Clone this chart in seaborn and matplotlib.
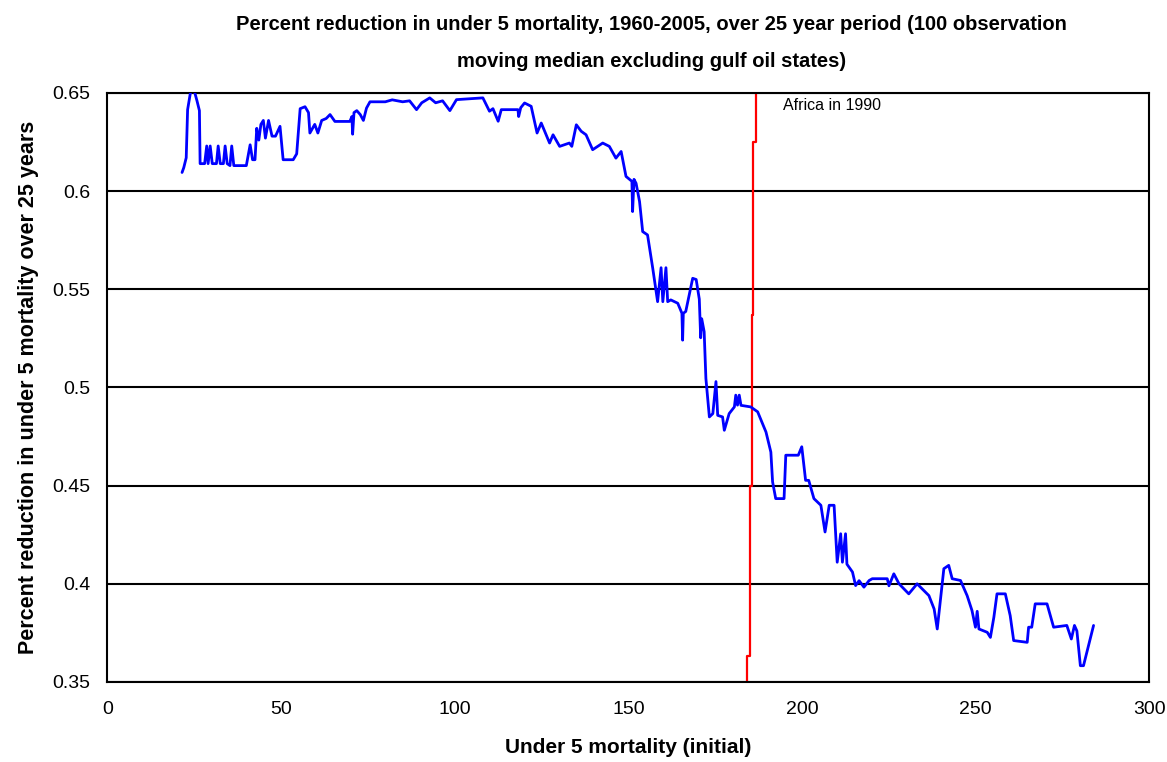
import matplotlib
matplotlib.use("Agg")
import matplotlib.pyplot as plt
import seaborn as sns
import pandas as pd

# moving median curve
mort_x = [21.5, 22.0, 22.7, 23.1, 23.9, 24.8, 25.8, 26.5, 26.7, 28.0, 28.6, 29.0, 29.6, 30.2,
          31.4, 31.9, 32.5, 33.4, 33.9, 34.5, 35.3, 35.8, 36.4, 40.0, 41.1, 41.8, 42.5, 43.0,
          43.6, 44.2, 44.9, 45.5, 46.4, 47.4, 48.4, 49.7, 50.6, 53.5, 54.5, 55.5, 56.9, 57.9,
          58.3, 59.7, 60.6, 61.7, 63.0, 64.1, 65.5, 69.8, 70.4, 70.6, 71.0, 71.8, 72.8, 73.7,
          74.6, 75.6, 80.0, 82.0, 85.0, 87.0, 89.0, 90.5, 92.8, 94.5, 96.5, 98.6, 100.5, 108.1,
          110.0, 111.0, 112.5, 113.4, 118.2, 118.4, 119.0, 120.1, 122.0, 123.7, 124.9, 127.3,
          128.3, 130.2, 133.0, 133.7, 135.0, 136.4, 137.8, 139.7, 142.6, 144.5, 146.4, 147.9,
          149.3, 151.0, 151.2, 151.6, 152.2, 153.2, 154.1, 155.5, 157.0, 158.4, 159.4, 159.9,
          160.8, 161.3, 162.2, 164.2, 165.4, 165.6, 165.8, 166.5, 168.5, 169.5, 170.4, 170.8,
          171.1, 171.8, 172.3, 173.3, 174.3, 175.2, 175.7, 177.1, 177.6, 179.0, 180.5, 180.9,
          181.4, 181.9, 182.4, 185.2, 187.2, 189.6, 191.0, 191.5, 192.4, 194.8, 195.3, 198.9,
          199.9, 201.0, 201.9, 203.4, 205.4, 206.6, 207.8, 209.2, 210.1, 211.1, 211.6, 212.5,
          212.9, 214.5, 215.4, 216.4, 217.8, 219.3, 220.2, 224.5, 225.0, 226.4, 227.9, 230.7,
          233.1, 236.5, 238.0, 238.9, 240.8, 242.2, 243.2, 245.6, 247.5, 248.9, 249.9, 250.4,
          250.9, 253.3, 254.2, 255.2, 256.1, 258.5, 259.9, 260.9, 264.8, 265.2, 266.1, 267.1,
          270.5, 272.4, 276.2, 277.5, 278.4, 279.1, 280.1, 281.0, 283.9]
reduction = [0.6095, 0.612, 0.617, 0.6415, 0.650, 0.6525, 0.646, 0.641, 0.614, 0.614, 0.623,
             0.614, 0.623, 0.614, 0.614, 0.623, 0.614, 0.614, 0.623, 0.614, 0.613, 0.623, 0.613,
             0.613, 0.6236, 0.616, 0.616, 0.632, 0.626, 0.634, 0.636, 0.627, 0.636, 0.628, 0.628,
             0.633, 0.616, 0.616, 0.619, 0.642, 0.643, 0.640, 0.6296, 0.634, 0.6296, 0.636,
             0.637, 0.639, 0.6355, 0.6355, 0.638, 0.629, 0.640, 0.641, 0.639, 0.636, 0.6423,
             0.6455, 0.6455, 0.6465, 0.6455, 0.646, 0.6415, 0.645, 0.6475, 0.645, 0.646, 0.641,
             0.6466, 0.6475, 0.6407, 0.642, 0.6356, 0.6415, 0.6415, 0.638, 0.6425, 0.6449,
             0.6432, 0.6296, 0.6347, 0.6245, 0.6287, 0.6228, 0.6245, 0.6228, 0.6338, 0.6305,
             0.6287, 0.6211, 0.6245, 0.6228, 0.6168, 0.6202, 0.6075, 0.605, 0.5896, 0.606,
             0.604, 0.5947, 0.5794, 0.5777, 0.5607, 0.5437, 0.561, 0.5437, 0.561, 0.5437,
             0.5446, 0.5429, 0.5378, 0.5241, 0.5378, 0.5387, 0.5556, 0.555, 0.545, 0.5253,
             0.535, 0.5284, 0.5046, 0.4850, 0.4867, 0.503, 0.4858, 0.485, 0.4782, 0.4867,
             0.4901, 0.4961, 0.491, 0.4961, 0.4909, 0.4901, 0.4876, 0.4773, 0.4671, 0.4519,
             0.4434, 0.4434, 0.4655, 0.4655, 0.4698, 0.4527, 0.4527, 0.4434, 0.44, 0.4264,
             0.44, 0.44, 0.411, 0.4255, 0.411, 0.4255, 0.410, 0.406, 0.3991, 0.4016, 0.3983,
             0.4017, 0.4026, 0.4026, 0.399, 0.4051, 0.400, 0.3949, 0.400, 0.394, 0.3872, 0.377,
             0.4077, 0.4094, 0.4026, 0.4017, 0.394, 0.3864, 0.3779, 0.386, 0.377, 0.3753,
             0.3727, 0.383, 0.3949, 0.3949, 0.3838, 0.3711, 0.3702, 0.3779, 0.3779, 0.3898,
             0.3898, 0.3779, 0.3788, 0.3719, 0.3788, 0.376, 0.3583, 0.3583, 0.3788]

# Africa in 1990 marker (step line)
africa_x = [184.2, 184.2, 184.9, 184.9, 185.7, 185.7, 186.0, 186.0, 186.6, 186.6]
africa_y = [0.35, 0.363, 0.363, 0.45, 0.45, 0.537, 0.537, 0.625, 0.625, 0.65]

x_ticks = [0, 50, 100, 150, 200, 250, 300]
y_ticks = [0.35, 0.4, 0.45, 0.5, 0.55, 0.6, 0.65]
y_tick_labels = ["0.35", "0.4", "0.45", "0.5", "0.55", "0.6", "0.65"]

sns.set_style("white")
plt.rcParams['font.family'] = ['Liberation Sans', 'DejaVu Sans']
plt.rcParams['text.color'] = 'black'
plt.rcParams['axes.labelcolor'] = 'black'

curve = pd.DataFrame({'x': mort_x, 'y': reduction})
africa = pd.DataFrame({'x': africa_x, 'y': africa_y})

fig = plt.figure(figsize=(11.67, 7.62), dpi=100)
ax = fig.add_axes([0.092, 0.105, 0.893, 0.773])

for yv in y_ticks:
    ax.axhline(yv, color='black', lw=1.5, zorder=1)

sns.lineplot(data=africa, x='x', y='y', sort=False, estimator=None, color='#ff0000',
             lw=1.6, ax=ax, zorder=2)
sns.lineplot(data=curve, x='x', y='y', sort=False, estimator=None, color='#0000ff',
             lw=2.0, ax=ax, zorder=3)

ax.set_xlim(0, 300)
ax.set_ylim(0.35, 0.65)
ax.set_xticks(x_ticks)
ax.set_yticks(y_ticks)
ax.set_yticklabels(y_tick_labels)
ax.tick_params(axis='both', direction='out', length=5, width=1.2, color='black',
               labelsize=14, labelcolor='black')
ax.tick_params(axis='x', pad=9)
ax.tick_params(axis='y', pad=7)
for s in ax.spines.values():
    s.set_color('black')
    s.set_linewidth(1.5)

ax.set_xlabel('Under 5 mortality (initial)', fontsize=15, fontweight='bold', labelpad=14)
ax.set_ylabel('Percent reduction in under 5 mortality over 25 years', fontsize=15.5,
              fontweight='bold')
ax.yaxis.set_label_coords(-0.066, 0.5)

ax.text(194.5, 0.6435, 'Africa in 1990', fontsize=11.5, ha='left', va='center')

fig.text(0.558, 0.968, 'Percent reduction in under 5 mortality, 1960-2005, over 25 year period (100 observation',
         ha='center', va='center', fontsize=14.5, fontweight='bold')
fig.text(0.558, 0.919, 'moving median excluding gulf oil states)',
         ha='center', va='center', fontsize=14.5, fontweight='bold')

fig.savefig('out.png', dpi=100)
